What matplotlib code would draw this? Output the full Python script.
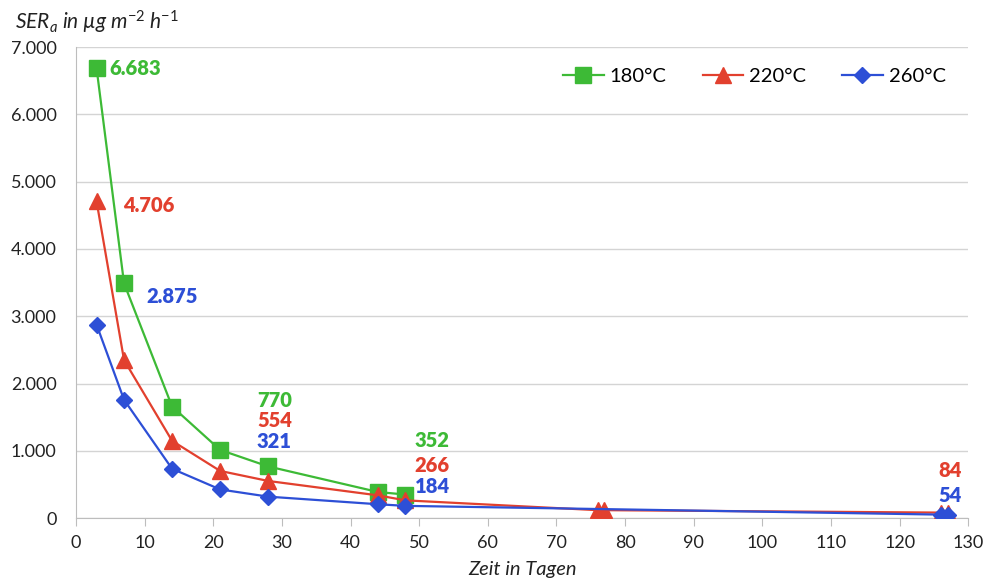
import matplotlib.pyplot as plt
from matplotlib.ticker import FuncFormatter

plt.rcParams['font.family'] = ['Lato', 'DejaVu Sans']
plt.rcParams['mathtext.fontset'] = 'custom'
plt.rcParams['mathtext.it'] = 'Lato:italic'
plt.rcParams['mathtext.rm'] = 'Lato'
plt.rcParams['mathtext.default'] = 'it'

# data
days_180 = [3, 7, 14, 21, 28, 44, 48]
ser_180 = [6683, 3490, 1660, 1015, 770, 390, 352]

days_220 = [3, 7, 14, 21, 28, 44, 48, 76, 77, 126, 127]
ser_220 = [4706, 2350, 1150, 703, 554, 340, 266, 120, 120, 84, 84]

days_260 = [3, 7, 14, 21, 28, 44, 48, 126, 127]
ser_260 = [2875, 1760, 735, 428, 321, 208, 184, 54, 54]

labels = ['180°C', '220°C', '260°C']

green = '#3dba36'
red = '#e2402e'
blue = '#2d4fd6'

def thousands(v, pos=None):
    return f'{int(v):,}'.replace(',', '.')

fig = plt.figure(figsize=(9.87, 5.81), dpi=100)
ax = fig.add_axes([0.077, 0.108, 0.904, 0.811])

ax.plot(days_180, ser_180, color=green, lw=1.6, marker='s', ms=11, label=labels[0], zorder=3)
ax.plot(days_220, ser_220, color=red, lw=1.6, marker='^', ms=11, label=labels[1], zorder=4)
ax.plot(days_260, ser_260, color=blue, lw=1.6, marker='D', ms=8, label=labels[2], zorder=5)

# value labels (value, x, y, colour, alignment)
notes = [
    (ser_180[0], 4.9, 6680, green, 'left'),
    (ser_220[0], 6.9, 4640, red, 'left'),
    (ser_260[0], 10.3, 3300, blue, 'left'),
    (ser_180[4], 28.9, 1750, green, 'center'),
    (ser_220[4], 28.9, 1450, red, 'center'),
    (ser_260[4], 28.9, 1145, blue, 'center'),
    (ser_180[6], 51.9, 1160, green, 'center'),
    (ser_220[6], 51.9, 790, red, 'center'),
    (ser_260[6], 51.9, 475, blue, 'center'),
    (ser_220[-1], 127.3, 715, red, 'center'),
    (ser_260[-1], 127.3, 345, blue, 'center'),
]
for v, x, y, c, ha in notes:
    ax.text(x, y, thousands(v), color=c, fontsize=14.5, fontweight='heavy',
            ha=ha, va='center', zorder=6)

ax.set_xlim(0, 130)
ax.set_ylim(0, 7000)
ax.set_xticks(range(0, 131, 10))
ax.set_yticks(range(0, 7001, 1000))
ax.yaxis.set_major_formatter(FuncFormatter(thousands))

ax.grid(axis='y', color='#d4d4d4', lw=1)
ax.set_axisbelow(True)
for s in ['top', 'right']:
    ax.spines[s].set_visible(False)
for s in ['left', 'bottom']:
    ax.spines[s].set_color('#bdbdbd')
ax.tick_params(axis='x', direction='out', length=6, color='#bdbdbd',
               labelsize=13, labelcolor='#222222', pad=6)
ax.tick_params(axis='y', length=0, labelsize=13, labelcolor='#222222', pad=14)

ax.set_xlabel('Zeit in Tagen', fontsize=14.5, style='italic', color='#222222', labelpad=7)
fig.text(0.015, 0.962, r'SER$_a$ in µg m$^{-2}$ h$^{-1}$', fontsize=15,
         style='italic', color='#222222', va='center')

ax.legend(loc='upper right', bbox_to_anchor=(0.995, 0.995), ncol=3, frameon=False,
          fontsize=14.5, handlelength=2.0, columnspacing=1.8, handletextpad=0.3)

fig.savefig('out.png', dpi=100)
